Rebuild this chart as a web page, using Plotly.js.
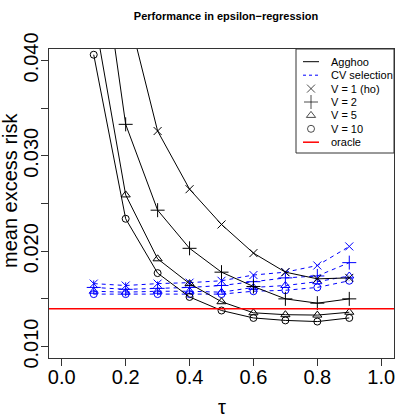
<!DOCTYPE html>
<html>
<head>
<meta charset="utf-8">
<script src="https://cdn.plot.ly/plotly-3.0.1.min.js"></script>
<style>html,body{margin:0;padding:0;background:#fff;}#chart{width:420px;height:420px;}</style>
</head>
<body>
<div id="chart"></div>
<script>
// ---- data ----
const tau = [0.1, 0.2, 0.3, 0.4, 0.5, 0.6, 0.7, 0.8, 0.9];
const agghooV1  = [0.070, 0.046, 0.0326, 0.0265, 0.0228, 0.0198, 0.0178, 0.0171, 0.0172];
const agghooV2  = [0.057, 0.0333, 0.0243, 0.0203, 0.0178, 0.0163, 0.0150, 0.01455, 0.0150];
const agghooV5  = [0.045, 0.0259, 0.0192, 0.0166, 0.0147, 0.01354, 0.01334, 0.0133, 0.0136];
const agghooV10 = [0.0406, 0.0234, 0.0177, 0.0152, 0.01378, 0.0130, 0.01274, 0.01262, 0.0130];
const cvV1  = [0.0166, 0.0164, 0.0166, 0.0167, 0.0169, 0.0175, 0.0178, 0.0185, 0.0205];
const cvV2  = [0.0162, 0.0160, 0.0161, 0.0162, 0.0164, 0.0168, 0.0172, 0.0174, 0.0188];
const cvV5  = [0.0158, 0.0157, 0.0158, 0.0158, 0.0157, 0.0162, 0.0164, 0.0168, 0.0174];
const cvV10 = [0.0155, 0.0155, 0.0155, 0.0155, 0.0155, 0.0158, 0.0159, 0.0162, 0.0169];
const oracle = 0.01396;

const xTickVals = [0, 0.2, 0.4, 0.6, 0.8, 1.0];
const xTickText = ['0.0', '0.2', '0.4', '0.6', '0.8', '1.0'];
const yTickVals = [0.010, 0.015, 0.020, 0.025, 0.030, 0.035, 0.040];
const yTickText = ['0.010', '', '0.020', '', '0.030', '', '0.040'];

const legendLabels = ['Agghoo', 'CV selection', 'V = 1 (ho)', 'V = 2', 'V = 5', 'V = 10', 'oracle'];
const symbols = ['x-thin-open', 'cross-thin-open', 'triangle-up-open', 'circle-open'];
const symbolSizes = [8, 10, 8, 7];

// ---- plot ----
const FONT = 'Liberation Sans, Arial, Helvetica, sans-serif';
const W = 420, H = 420;
const M = {l: 49, r: 26, t: 49, b: 62};
const PW = W - M.l - M.r, PH = H - M.t - M.b;
const px = x => (x - M.l) / PW;
const py = y => (H - M.b - y) / PH;

const agg = [agghooV1, agghooV2, agghooV5, agghooV10];
const cv = [cvV1, cvV2, cvV5, cvV10];

const traces = [];
cv.forEach((ys, i) => {
  traces.push({
    x: tau, y: ys, type: 'scatter', mode: 'lines+markers',
    line: {color: '#0000ff', width: 1, dash: '4px,4px'},
    marker: {symbol: symbols[i], size: symbolSizes[i], color: '#0000ff', line: {color: '#0000ff', width: 1}},
    showlegend: false, hoverinfo: 'skip'
  });
});
agg.forEach((ys, i) => {
  traces.push({
    x: tau, y: ys, type: 'scatter', mode: 'lines+markers',
    line: {color: '#000000', width: 1},
    marker: {symbol: symbols[i], size: symbolSizes[i], color: '#000000', line: {color: '#000000', width: 1}},
    showlegend: false, hoverinfo: 'skip'
  });
});

// legend (manual, R-style)
const legTop = 49, legBottom = 153, legLeft = 296;
const rowY = [61.7, 75.2, 88.6, 102, 115.4, 128.8, 142.2];
const symX = 311, lineX0 = 303, lineX1 = 319, textX = 329;
traces.push({
  x: [0, 1, 2, 3].map(() => px(symX)),
  y: [2, 3, 4, 5].map(k => py(rowY[k])),
  xaxis: 'x2', yaxis: 'y2', type: 'scatter', mode: 'markers',
  marker: {symbol: symbols, size: symbolSizes, color: '#000', line: {color: '#000', width: 1}},
  showlegend: false, hoverinfo: 'skip', cliponaxis: false
});

const shapes = [
  {type: 'line', xref: 'paper', x0: 0, x1: 1, yref: 'y', y0: oracle, y1: oracle,
   line: {color: '#ff0000', width: 1.5}},
  {type: 'rect', xref: 'paper', yref: 'paper', x0: px(legLeft), x1: 1, y0: py(legBottom), y1: 1,
   line: {color: '#333', width: 1}, fillcolor: 'rgba(0,0,0,0)', layer: 'below'},
  {type: 'line', xref: 'paper', yref: 'paper', x0: px(lineX0), x1: px(lineX1), y0: py(rowY[0]), y1: py(rowY[0]),
   line: {color: '#000', width: 1}},
  {type: 'line', xref: 'paper', yref: 'paper', x0: px(lineX0), x1: px(lineX1), y0: py(rowY[1]), y1: py(rowY[1]),
   line: {color: '#0000ff', width: 1, dash: '3px,3px'}},
  {type: 'line', xref: 'paper', yref: 'paper', x0: px(lineX0), x1: px(lineX1), y0: py(rowY[6]), y1: py(rowY[6]),
   line: {color: '#ff0000', width: 1.5}}
];

const annotations = legendLabels.map((t, k) => ({
  text: t, xref: 'paper', yref: 'paper', x: px(textX), y: py(rowY[k]),
  xanchor: 'left', yanchor: 'middle', showarrow: false,
  font: {family: FONT, size: 11, color: '#000'}
}));
annotations.push({
  text: 'mean excess risk', xref: 'paper', yref: 'paper', x: px(10), y: py(191),
  xanchor: 'center', yanchor: 'middle', textangle: -90, showarrow: false,
  font: {family: FONT, size: 20, color: '#000'}
});
annotations.push({
  text: 'τ', xref: 'paper', yref: 'paper', x: px(222), y: py(407),
  xanchor: 'center', yanchor: 'middle', showarrow: false,
  font: {family: FONT, size: 20, color: '#000'}
});

const layout = {
  width: W, height: H, margin: M,
  paper_bgcolor: '#fff', plot_bgcolor: '#fff',
  font: {family: FONT, color: '#000'},
  title: {text: '<b>Performance in epsilon−regression</b>', x: px(226), xref: 'paper', xanchor: 'center',
          y: 1 - 16 / H, yanchor: 'middle', font: {family: FONT, size: 11, color: '#000'}},
  xaxis: {range: [-0.04, 1.04], tickvals: xTickVals, ticktext: xTickText, ticks: 'outside', ticklen: 7,
          tickcolor: '#333', showline: true, mirror: true, linecolor: '#333', linewidth: 1,
          ticklabelstandoff: -6,
          showgrid: false, zeroline: false, tickfont: {family: FONT, size: 20, color: '#000'}},
  yaxis: {range: [0.0088, 0.0412], tickvals: yTickVals, ticktext: yTickText, ticks: 'outside', ticklen: 7,
          tickangle: -90, tickcolor: '#333', showline: true, mirror: true, linecolor: '#333', linewidth: 1,
          ticklabelstandoff: -5,
          showgrid: false, zeroline: false, tickfont: {family: FONT, size: 20, color: '#000'}},
  xaxis2: {overlaying: 'x', range: [0, 1], visible: false, fixedrange: true},
  yaxis2: {overlaying: 'y', range: [0, 1], visible: false, fixedrange: true},
  shapes: shapes, annotations: annotations, showlegend: false
};

Plotly.newPlot('chart', traces, layout, {displayModeBar: false, staticPlot: true});
</script>
</body>
</html>
